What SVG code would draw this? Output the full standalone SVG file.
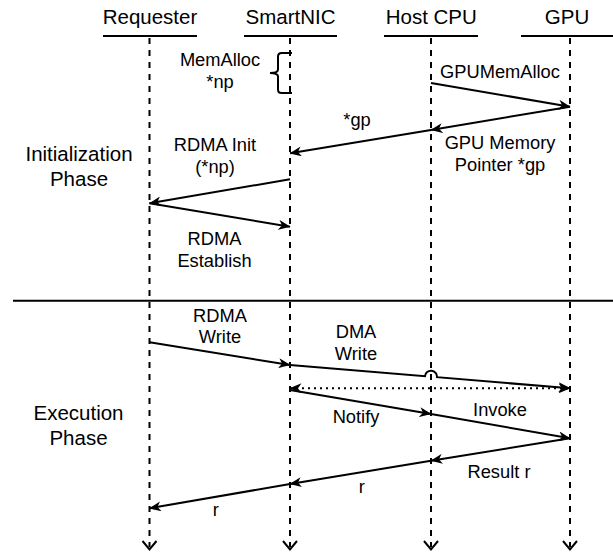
<svg xmlns="http://www.w3.org/2000/svg" width="613" height="556" viewBox="0 0 613 556">
<style>
text{font-family:"Liberation Sans",Arial,sans-serif;fill:#000;text-anchor:middle}
.h{font-size:20.5px}
.l{font-size:18.3px}
.hl{stroke:#000;stroke-width:2;fill:none}
.life{stroke:#000;stroke-width:2;stroke-dasharray:6 6;fill:none}
.end{stroke:#000;stroke-width:2;fill:none}
.msg{stroke:#000;stroke-width:2;fill:none;marker-end:url(#ah)}
.dot{stroke:#000;stroke-width:2;fill:none;stroke-dasharray:2 4;marker-start:url(#ah);marker-end:url(#ah)}
</style>
<defs>
<marker id="ah" viewBox="0 0 12 10" refX="11.5" refY="5" markerWidth="12" markerHeight="10" markerUnits="userSpaceOnUse" orient="auto-start-reverse">
<path d="M0,0 L12,5 L0,10 L3.5,5 Z" fill="#000"/>
</marker>
</defs>
<rect width="613" height="556" fill="#fff"/>

<g id="requester">
<text class="h" x="150" y="24">Requester</text>
<line class="hl" x1="103" y1="36" x2="197" y2="36"/>
<line class="life" x1="149.5" y1="38" x2="149.5" y2="547"/>
<polyline class="end" points="142.5,541 149.5,549.5 156.5,541"/>
</g>
<g id="smartnic">
<text class="h" x="290.5" y="24">SmartNIC</text>
<line class="hl" x1="244" y1="36" x2="337" y2="36"/>
<line class="life" x1="290" y1="38" x2="290" y2="547"/>
<polyline class="end" points="283,541 290,549.5 297,541"/>
</g>
<g id="hostcpu">
<text class="h" x="431.3" y="24">Host CPU</text>
<line class="hl" x1="384" y1="36" x2="478" y2="36"/>
<line class="life" x1="431" y1="38" x2="431" y2="547"/>
<polyline class="end" points="424,541 431,549.5 438,541"/>
</g>
<g id="gpu">
<text class="h" x="567" y="24">GPU</text>
<line class="hl" x1="521" y1="36" x2="613" y2="36"/>
<line class="life" x1="570" y1="38" x2="570" y2="547"/>
<polyline class="end" points="563,541 570,549.5 577,541"/>
</g>

<g id="phases">
<text class="h" x="79" y="161">Initialization</text>
<text class="h" x="79" y="186">Phase</text>
<line class="hl" x1="13" y1="300.7" x2="613" y2="300.7"/>
<text class="h" x="78.5" y="420">Execution</text>
<text class="h" x="78.5" y="444.5">Phase</text>
</g>

<g id="memalloc">
<path class="hl" d="M292,53 L281.5,53 Q278,53 278,56.5 L278,69.5 Q278,73 270,73 Q278,73 278,76.5 L278,89.5 Q278,93 281.5,93 L292,93"/>
<text class="l" x="220" y="66">MemAlloc</text>
<text class="l" x="220" y="88">*np</text>
</g>

<g id="connectors">
<path class="msg" d="M431,83 L570,106.7"/>
<path class="msg" d="M570,106.7 L431,130"/>
<path class="msg" d="M431,130 L290,153.3"/>
<path class="msg" d="M290,179.3 L149.5,203.3"/>
<path class="msg" d="M149.5,203.3 L290,226.7"/>
<path class="msg" d="M149.5,342.3 L290,365"/>
<path class="msg" d="M290,365 L425,376.2 A6,6 0 0 1 437,377.2 L570,388.3"/>
<path class="dot" d="M290,388.3 L570,388.3"/>
<path class="msg" d="M290,390 L431,414"/>
<path class="msg" d="M431,414 L570,438.3"/>
<path class="msg" d="M570,438.3 L431,460.7"/>
<path class="msg" d="M431,460.7 L290,484"/>
<path class="msg" d="M290,484 L149.5,508.3"/>
</g>

<g id="labels">
<text class="l" x="500" y="78">GPUMemAlloc</text>
<text class="l" x="357" y="126">*gp</text>
<text class="l" x="500" y="149">GPU Memory</text>
<text class="l" x="500" y="171">Pointer *gp</text>
<text class="l" x="215" y="151">RDMA Init</text>
<text class="l" x="215" y="173">(*np)</text>
<text class="l" x="214.5" y="245">RDMA</text>
<text class="l" x="214.5" y="267">Establish</text>
<text class="l" x="220" y="322">RDMA</text>
<text class="l" x="220" y="343">Write</text>
<text class="l" x="356" y="337.5">DMA</text>
<text class="l" x="356" y="360">Write</text>
<text class="l" x="356" y="423">Notify</text>
<text class="l" x="500" y="416">Invoke</text>
<text class="l" x="499" y="478">Result r</text>
<text class="l" x="361.7" y="493">r</text>
<text class="l" x="215.8" y="516">r</text>
</g>
</svg>
